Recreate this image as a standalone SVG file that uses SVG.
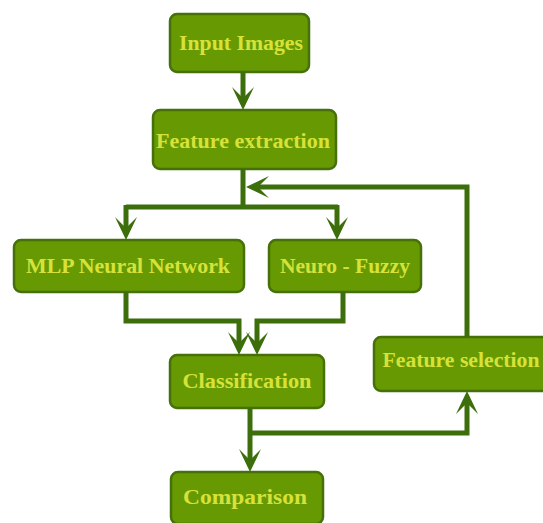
<svg xmlns="http://www.w3.org/2000/svg" width="543" height="523" viewBox="0 0 543 523">
<style>
.box{fill:#679a02;stroke:#46700a;stroke-width:2.5}
.lbl{font-family:"Liberation Serif","Times New Roman",serif;font-weight:bold;font-size:21px;fill:#d6e23a;text-anchor:middle}
.ln{fill:none;stroke:#3c6e0c;stroke-width:5;stroke-linejoin:miter}
.ah{fill:#3c6e0c}
</style>
<rect width="543" height="523" fill="#ffffff"/>
<g id="input"><rect class="box" x="170" y="14" width="139" height="58" rx="7"/><text class="lbl" x="241" y="50" textLength="124" lengthAdjust="spacingAndGlyphs">Input Images</text></g>
<g id="feature-extraction"><rect class="box" x="153" y="110" width="183" height="59" rx="7"/><text class="lbl" x="243" y="148" textLength="174" lengthAdjust="spacingAndGlyphs">Feature extraction</text></g>
<g id="mlp"><rect class="box" x="14" y="240" width="230" height="52" rx="7"/><text class="lbl" x="128" y="273" textLength="204" lengthAdjust="spacingAndGlyphs">MLP Neural Network</text></g>
<g id="neuro-fuzzy"><rect class="box" x="269" y="240" width="152" height="52" rx="7"/><text class="lbl" x="345" y="273" textLength="130" lengthAdjust="spacingAndGlyphs">Neuro - Fuzzy</text></g>
<g id="classification"><rect class="box" x="170" y="355" width="154" height="53" rx="7"/><text class="lbl" x="247" y="388" textLength="129" lengthAdjust="spacingAndGlyphs">Classification</text></g>
<g id="feature-selection"><rect class="box" x="374" y="337" width="180" height="54" rx="7"/><text class="lbl" x="461" y="367" textLength="157" lengthAdjust="spacingAndGlyphs">Feature selection</text></g>
<g id="comparison"><rect class="box" x="171" y="472" width="152" height="52" rx="7"/><text class="lbl" x="245" y="504" textLength="124" lengthAdjust="spacingAndGlyphs">Comparison</text></g>
<g id="connectors">
<path class="ln" d="M243,72 V100"/>
<path class="ah" d="M243,110 L232,87 L243,98 L254,87 Z"/>
<path class="ln" d="M243,169 V207 M126,207 H338 M126,205 V228"/>
<path class="ln" d="M337,205 V228"/>
<path class="ah" d="M126,240 L115,217 L126,228 L137,217 Z"/>
<path class="ah" d="M337,240 L326,217 L337,228 L348,217 Z"/>
<path class="ln" d="M467,337 V187 H258"/>
<path class="ah" d="M246,187 L269,176 L258,187 L269,198 Z"/>
<path class="ln" d="M126,292 V321 H239 V344"/>
<path class="ah" d="M239,355 L228,332 L239,343 L250,332 Z"/>
<path class="ln" d="M343,292 V321 H257 V344"/>
<path class="ah" d="M257,355 L246,332 L257,343 L268,332 Z"/>
<path class="ln" d="M250,408 V461"/>
<path class="ah" d="M250,472 L239,449 L250,460 L261,449 Z"/>
<path class="ln" d="M250,433 H467 V402"/>
<path class="ah" d="M467,391 L456,414 L467,403 L478,414 Z"/>
</g>
</svg>
